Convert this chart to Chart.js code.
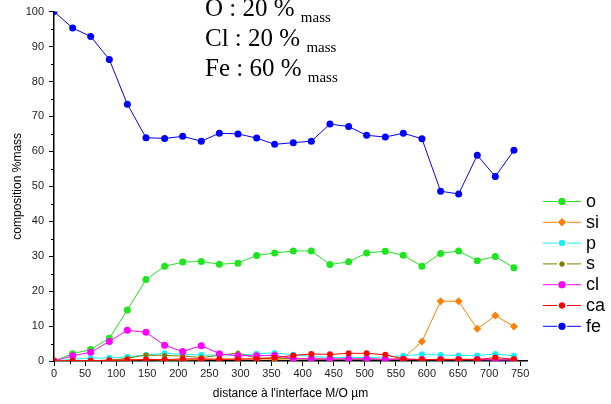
<!DOCTYPE html>
<html>
<head>
<meta charset="utf-8">
<script src="https://cdn.jsdelivr.net/npm/chart.js@4/dist/chart.umd.min.js"></script>
<style>
  body { margin: 0; background: #fff; }
  #wrap { position: relative; width: 611px; height: 404px; }
  #note {
    position: absolute; left: 205px; top: -7px;
    font-family: "Liberation Serif", serif; font-size: 25px; line-height: 30px; color: #000;
    white-space: nowrap;
  }
  #note span { font-size: 15px; line-height: 0; position: relative; top: 6px; }
</style>
</head>
<body>
<div id="wrap">
  <canvas id="result-chart" width="611" height="404"></canvas>
  <div id="note">
    <div>O : 20 % <span>mass</span></div>
    <div>Cl : 20 % <span>mass</span></div>
    <div>Fe : 60 % <span>mass</span></div>
  </div>
</div>
<script>
// distance à l'interface (µm)
const distance = [0, 30, 59, 89, 118, 148, 178, 207, 237, 266, 296, 326, 355,
    385, 414, 444, 474, 503, 533, 562, 592, 622, 651, 681, 710, 740];

// composition %mass
const o  = [0, 2.1, 3.3, 6.5, 14.6, 23.3, 27.1, 28.3, 28.5, 27.7, 28.0, 30.2, 30.9,
    31.5, 31.5, 27.6, 28.4, 30.9, 31.4, 30.3, 27.1, 30.8, 31.5, 28.7, 29.9, 26.7];
const si = [0, 0.1, 0.1, 0.2, 0.3, 0.4, 0.3, 0.3, 0.4, 0.5, 0.6, 0.6, 0.5,
    0.6, 0.6, 0.5, 0.5, 0.5, 0.4, 0.8, 5.6, 17.1, 17.1, 9.2, 13.0, 9.9];
const p  = [0, 0.5, 0.8, 0.9, 1.2, 1.7, 2.2, 1.9, 1.7, 1.7, 1.6, 2.1, 2.3,
    1.8, 1.3, 1.0, 1.0, 1.0, 1.1, 1.5, 1.9, 1.7, 1.6, 1.6, 2.0, 1.5];
const s  = [0, 0.1, 0.1, 0.2, 0.8, 1.7, 1.6, 1.4, 1.0, 1.6, 2.3, 0.8, 0.9,
    0.6, 0.5, 0.5, 0.5, 0.5, 0.5, 0.4, 0.4, 0.5, 0.5, 0.5, 0.4, 0.4];
const cl = [0, 1.5, 2.5, 5.6, 8.8, 8.2, 4.5, 2.7, 4.4, 2.1, 1.5, 1.5, 1.6,
    0.7, 0.6, 0.6, 0.6, 0.6, 0.5, 0.5, 0.4, 0.4, 0.4, 0.4, 0.3, 0.3];
const ca = [0, 0.1, 0.1, 0.2, 0.3, 0.4, 0.4, 0.6, 0.6, 0.5, 0.5, 0.6, 0.9,
    1.6, 2.0, 1.9, 2.2, 2.2, 1.8, 0.6, 0.4, 0.4, 0.4, 0.4, 1.0, 0.5];
const fe = [100, 95.3, 92.9, 86.3, 73.5, 63.9, 63.7, 64.3, 62.9, 65.2, 65.0, 63.8, 62.0,
    62.5, 62.9, 67.8, 67.1, 64.6, 64.1, 65.2, 63.6, 48.6, 47.8, 58.9, 52.8, 60.3];

const yTicks = [0, 10, 20, 30, 40, 50, 60, 70, 80, 90, 100];
const xTicks = [0, 50, 100, 150, 200, 250, 300, 350, 400, 450, 500, 550, 600, 650, 700, 750];

function pts(arr) {
    return arr.map((v, i) => ({ x: distance[i], y: v }));
}

function series(label, arr, color, style, radius, order) {
    return {
        label: label,
        data: pts(arr),
        borderColor: color,
        backgroundColor: color,
        pointBackgroundColor: color,
        pointBorderColor: color,
        pointBorderWidth: 0,
        pointStyle: style,
        pointRadius: radius,
        borderWidth: 1,
        tension: 0,
        order: order
    };
}

// minor ticks + legend like the original plot
const extras = {
    id: 'extras',
    afterDraw(chart) {
        const c = chart.ctx;
        const xs = chart.scales.x, ys = chart.scales.y;
        const area = chart.chartArea;
        c.save();
        c.strokeStyle = '#000';
        c.lineWidth = 1;
        c.beginPath();
        for (let v = 5; v < 100; v += 10) {
            const y = Math.round(ys.getPixelForValue(v)) + 0.5;
            c.moveTo(area.left - 3, y); c.lineTo(area.left, y);
        }
        for (let v = 25; v < 760; v += 50) {
            const x = Math.round(xs.getPixelForValue(v)) + 0.5;
            c.moveTo(x, area.bottom); c.lineTo(x, area.bottom + 3);
        }
        c.stroke();

        // legend
        let y0 = 201;
        chart.data.datasets.forEach(ds => {
            const cx = 562;
            c.strokeStyle = ds.borderColor;
            c.lineWidth = 1;
            c.beginPath();
            c.moveTo(543, y0 + 0.5); c.lineTo(557, y0 + 0.5);
            c.moveTo(567, y0 + 0.5); c.lineTo(581, y0 + 0.5);
            c.stroke();
            c.fillStyle = ds.pointBackgroundColor;
            Chart.helpers.drawPoint(c, { pointStyle: ds.pointStyle, radius: ds.pointRadius, borderWidth: 0, rotation: 0 }, cx, y0 + 0.5);
            c.fill();
            c.fillStyle = '#000';
            c.font = '18px "Liberation Sans", Arial, sans-serif';
            c.textBaseline = 'middle';
            c.fillText(ds.label, 586, y0 + 1);
            y0 += 20.8;
        });
        c.restore();
    }
};

const ctx = document.getElementById('result-chart');
const chart = new Chart(ctx, {
    type: 'line',
    data: {
        datasets: [
            series('o', o, '#1ee61e', 'circle', 3.5, 7),
            series('si', si, '#ff8000', 'rectRot', 4, 6),
            series('p', p, '#16f0f0', 'circle', 3, 5),
            series('s', s, '#808000', 'circle', 2.5, 4),
            series('cl', cl, '#ff00ff', 'circle', 3.5, 3),
            series('ca', ca, '#ff0000', 'circle', 3, 2),
            series('fe', fe, '#0000ff', 'circle', 3.5, 1)
        ]
    },
    plugins: [extras],
    options: {
        responsive: false,
        animation: false,
        events: [],
        plugins: {
            legend: { display: false },
            tooltip: { enabled: false }
        },
        layout: {
            padding: { left: 0, right: 84, top: 11, bottom: 0 }
        },
        scales: {
            x: {
                type: 'linear',
                min: 0,
                max: 761,
                afterBuildTicks: (scale) => { scale.ticks = xTicks.map(v => ({ value: v })); },
                afterFit: (scale) => { scale.height = 43; },
                ticks: {
                    color: '#222',
                    font: { family: '"Liberation Sans", Arial, sans-serif', size: 11 },
                    padding: 1,
                    maxRotation: 0
                },
                grid: { drawOnChartArea: false, color: '#000', tickLength: 5 },
                border: { color: '#000', width: 1.5 },
                title: {
                    display: true,
                    text: "distance à l'interface M/O µm",
                    color: '#000',
                    font: { family: '"Liberation Sans", Arial, sans-serif', size: 12 },
                    padding: { top: 2, bottom: 3 }
                }
            },
            y: {
                min: 0,
                max: 100,
                afterBuildTicks: (scale) => { scale.ticks = yTicks.map(v => ({ value: v })); },
                afterFit: (scale) => { scale.width = 54; },
                ticks: {
                    color: '#222',
                    font: { family: '"Liberation Sans", Arial, sans-serif', size: 11 },
                    padding: 5
                },
                grid: { drawOnChartArea: false, color: '#000', tickLength: 5 },
                border: { color: '#000', width: 1.5 },
                title: {
                    display: true,
                    text: 'composition %mass',
                    color: '#000',
                    font: { family: '"Liberation Sans", Arial, sans-serif', size: 12 },
                    padding: { top: 10, bottom: 0 }
                }
            }
        }
    }
});
</script>
</body>
</html>
